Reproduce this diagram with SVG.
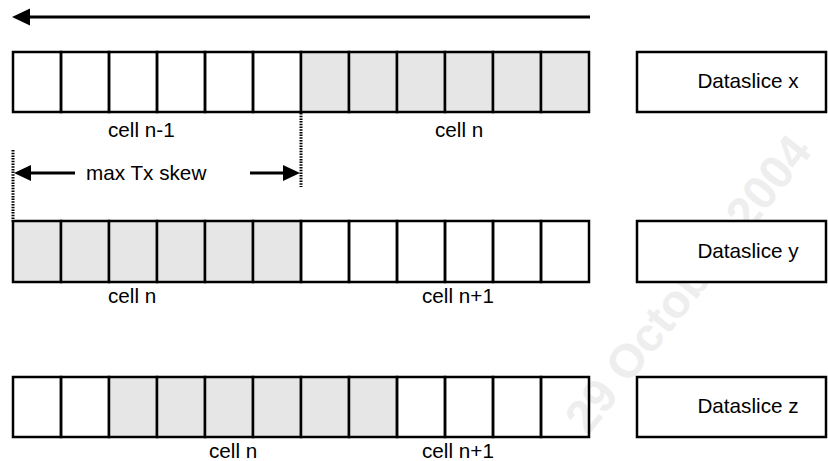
<svg xmlns="http://www.w3.org/2000/svg" width="828" height="461" viewBox="0 0 828 461">
<style>
  .c { fill: none; stroke: #000; stroke-width: 2.5; }
  .s { fill: #e6e6e6; stroke: #000; stroke-width: 2.5; }
  .box { fill: #ffffff; stroke: #000; stroke-width: 2.5; }
  .t { font-family: "Liberation Sans", Arial, sans-serif; font-size: 20.7px; fill: #000; }
  .wm { font-family: "Liberation Sans", Arial, sans-serif; font-size: 47px; font-weight: bold; fill: #eeeeee; }
  .ln { stroke: #000; stroke-width: 3; fill: none; }
  .hatch { stroke: #000; stroke-width: 3; stroke-dasharray: 1.5 1.2; fill: none; }
</style>
<g id="watermark">
  <text class="wm" x="688" y="300" text-anchor="middle" transform="rotate(-51.6 688 284)">29 October 2004</text>
</g>
<g id="row-x">
  <rect class="c" x="13" y="52" width="48" height="60"/>
  <rect class="c" x="61" y="52" width="48" height="60"/>
  <rect class="c" x="109" y="52" width="48" height="60"/>
  <rect class="c" x="157" y="52" width="48" height="60"/>
  <rect class="c" x="205" y="52" width="48" height="60"/>
  <rect class="c" x="253" y="52" width="48" height="60"/>
  <rect class="s" x="301" y="52" width="48" height="60"/>
  <rect class="s" x="349" y="52" width="48" height="60"/>
  <rect class="s" x="397" y="52" width="48" height="60"/>
  <rect class="s" x="445" y="52" width="48" height="60"/>
  <rect class="s" x="493" y="52" width="48" height="60"/>
  <rect class="s" x="541" y="52" width="48" height="60"/>
  <text class="t" x="108" y="137">cell n-1</text>
  <text class="t" x="435" y="137">cell n</text>
</g>
<g id="dataslice-x">
  <rect class="box" x="637" y="52" width="189" height="60"/>
  <text class="t" x="748" y="88" text-anchor="middle">Dataslice x</text>
</g>
<g id="row-y">
  <rect class="s" x="13" y="221" width="48" height="61"/>
  <rect class="s" x="61" y="221" width="48" height="61"/>
  <rect class="s" x="109" y="221" width="48" height="61"/>
  <rect class="s" x="157" y="221" width="48" height="61"/>
  <rect class="s" x="205" y="221" width="48" height="61"/>
  <rect class="s" x="253" y="221" width="48" height="61"/>
  <rect class="c" x="301" y="221" width="48" height="61"/>
  <rect class="c" x="349" y="221" width="48" height="61"/>
  <rect class="c" x="397" y="221" width="48" height="61"/>
  <rect class="c" x="445" y="221" width="48" height="61"/>
  <rect class="c" x="493" y="221" width="48" height="61"/>
  <rect class="c" x="541" y="221" width="48" height="61"/>
  <text class="t" x="108" y="303">cell n</text>
  <text class="t" x="422" y="303">cell n+1</text>
</g>
<g id="dataslice-y">
  <rect class="box" x="637" y="221" width="189" height="61"/>
  <text class="t" x="748" y="258" text-anchor="middle">Dataslice y</text>
</g>
<g id="row-z">
  <rect class="c" x="13" y="377" width="48" height="60"/>
  <rect class="c" x="61" y="377" width="48" height="60"/>
  <rect class="s" x="109" y="377" width="48" height="60"/>
  <rect class="s" x="157" y="377" width="48" height="60"/>
  <rect class="s" x="205" y="377" width="48" height="60"/>
  <rect class="s" x="253" y="377" width="48" height="60"/>
  <rect class="s" x="301" y="377" width="48" height="60"/>
  <rect class="s" x="349" y="377" width="48" height="60"/>
  <rect class="c" x="397" y="377" width="48" height="60"/>
  <rect class="c" x="445" y="377" width="48" height="60"/>
  <rect class="c" x="493" y="377" width="48" height="60"/>
  <rect class="c" x="541" y="377" width="48" height="60"/>
  <text class="t" x="209" y="458">cell n</text>
  <text class="t" x="422" y="458">cell n+1</text>
</g>
<g id="dataslice-z">
  <rect class="box" x="637" y="377" width="189" height="60"/>
  <text class="t" x="748" y="413" text-anchor="middle">Dataslice z</text>
</g>
<g id="connectors">
  <line class="ln" x1="590" y1="17" x2="28" y2="17"/>
  <polygon points="12,17 30,8.5 30,25.5" fill="#000"/>
  <line class="hatch" x1="301" y1="113" x2="301" y2="187"/>
  <line class="hatch" x1="13" y1="150" x2="13" y2="222"/>
  <line class="ln" x1="75" y1="173" x2="28" y2="173"/>
  <polygon points="14,173 31,165 31,181" fill="#000"/>
  <line class="ln" x1="250" y1="173" x2="287" y2="173"/>
  <polygon points="300,173 283,165 283,181" fill="#000"/>
  <text class="t" x="86" y="180">max Tx skew</text>
</g>
</svg>
